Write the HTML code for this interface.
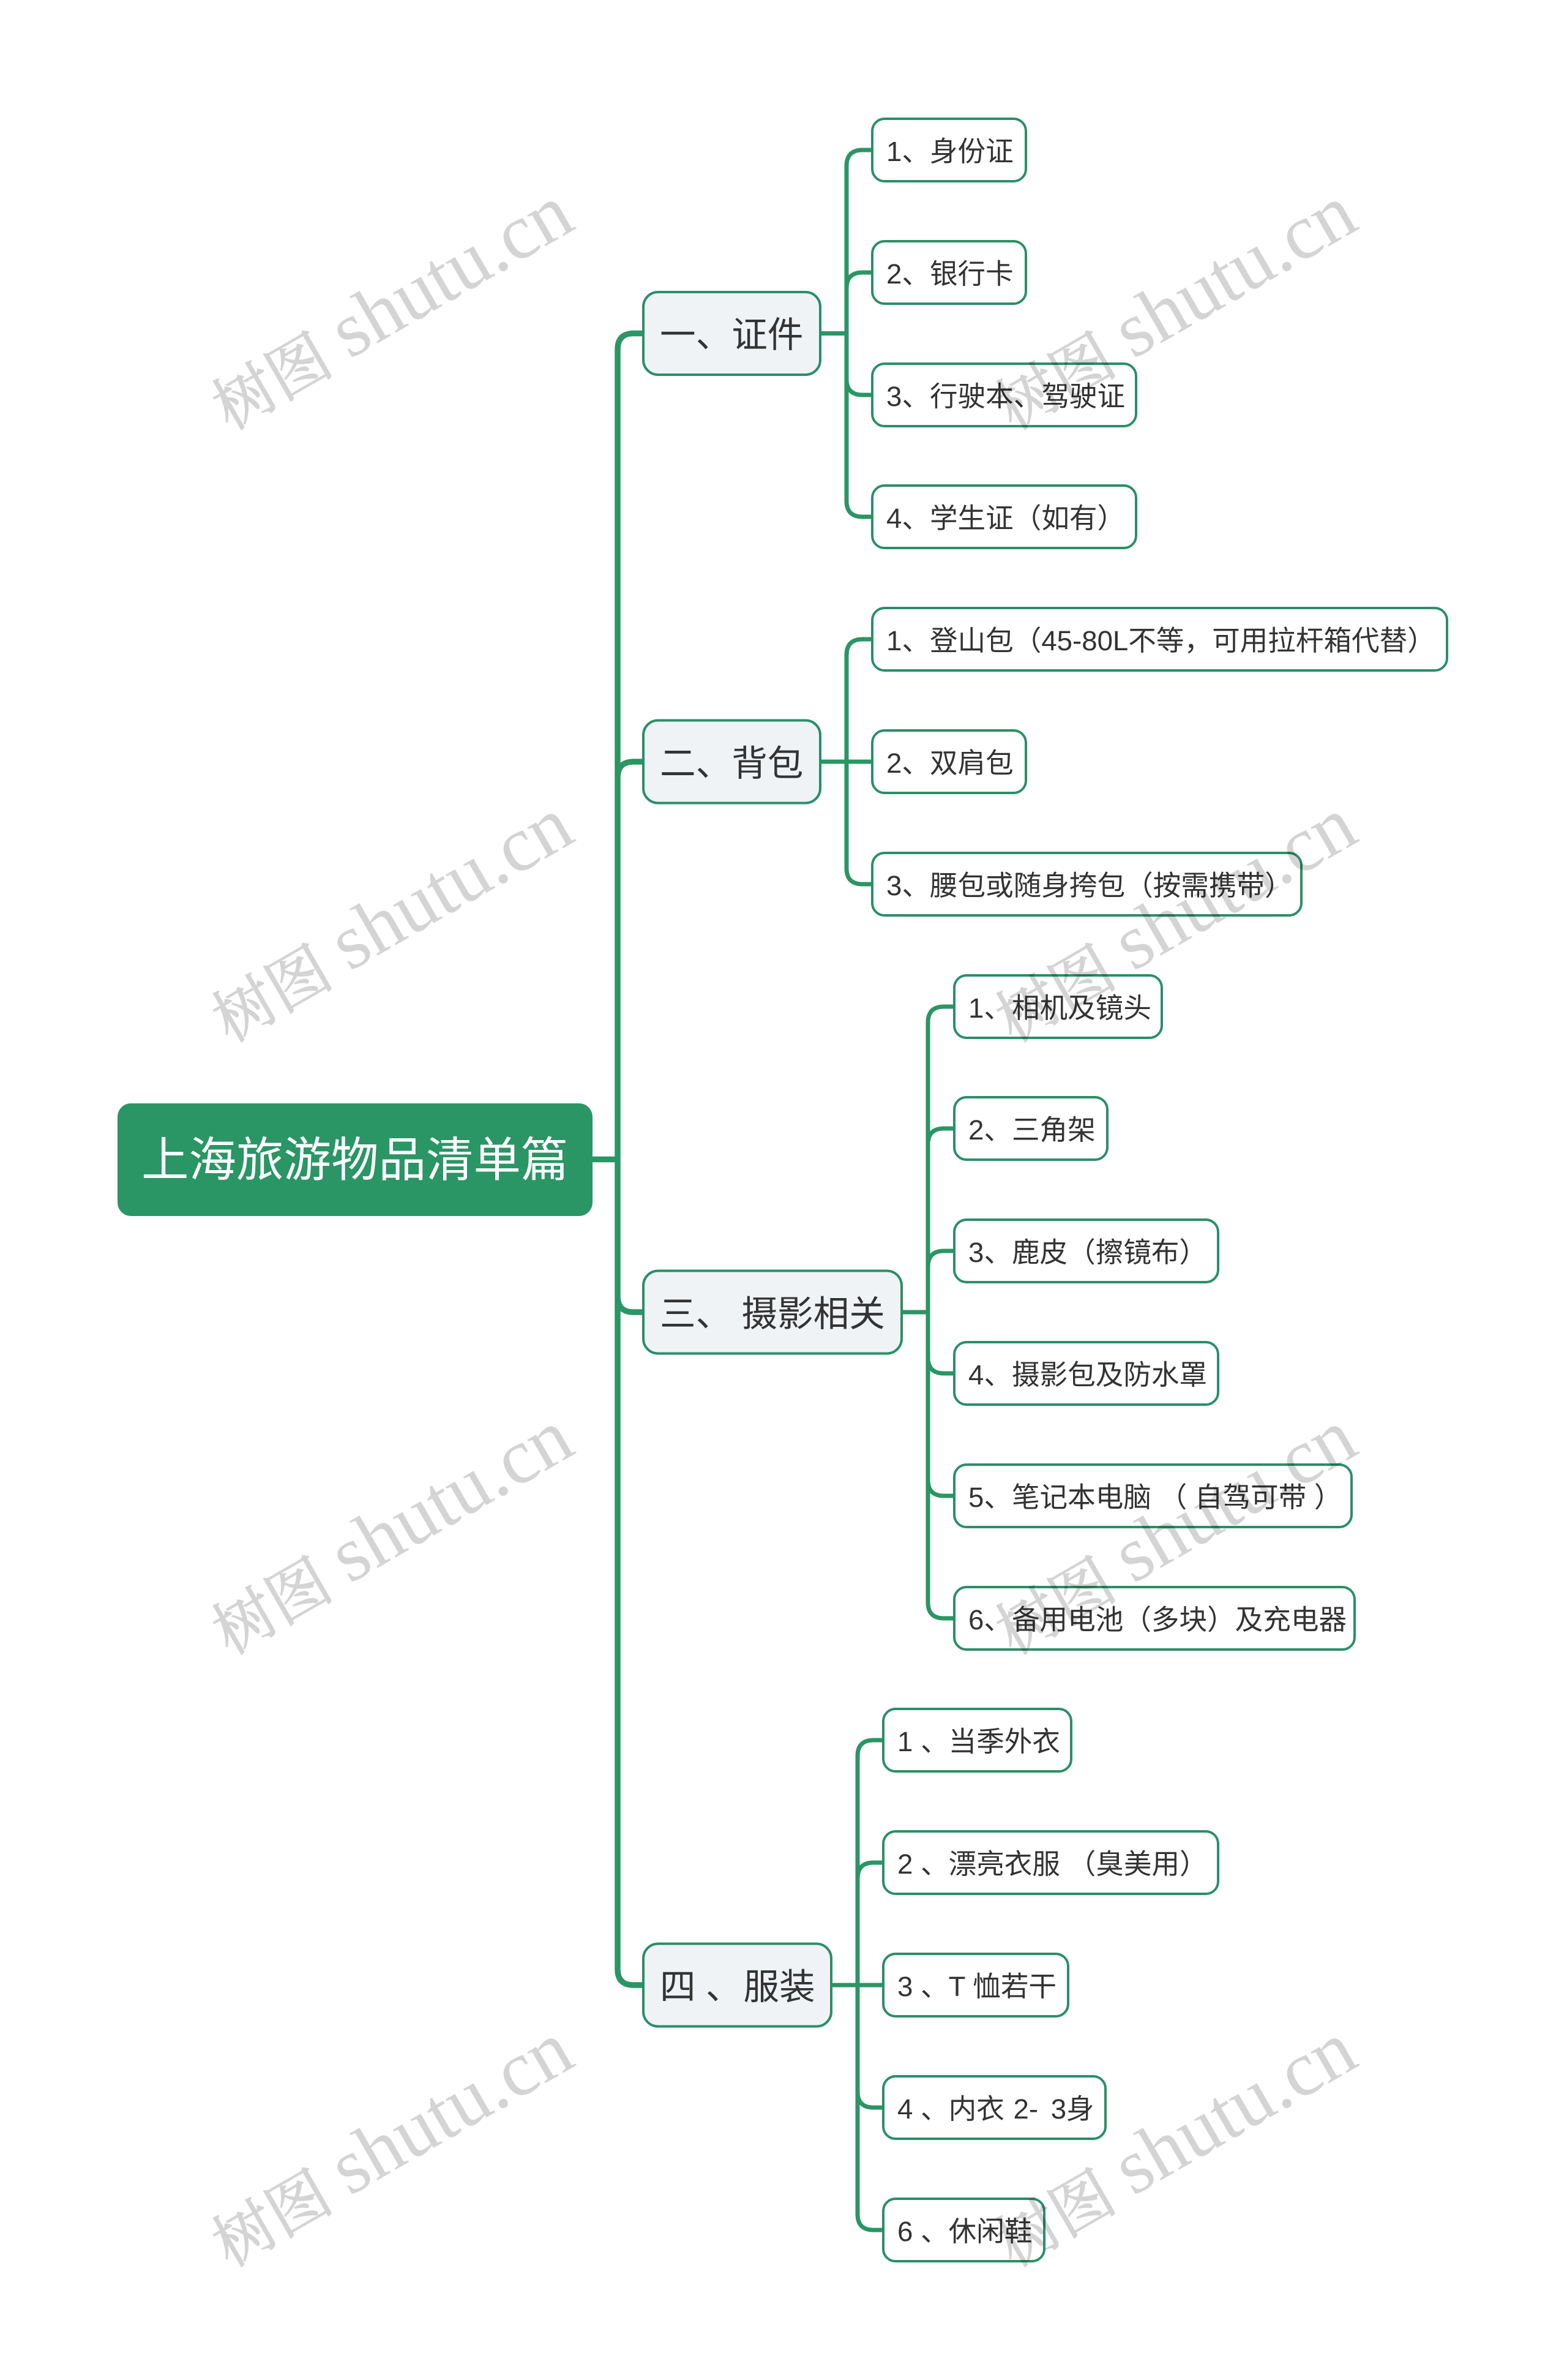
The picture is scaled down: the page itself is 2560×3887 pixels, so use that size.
<!DOCTYPE html>
<html><head><meta charset="utf-8"><style>
html,body{margin:0;padding:0;background:#fff}
svg{display:block}
text{font-family:"Liberation Sans","Noto Sans CJK SC",sans-serif;fill:#333;white-space:pre}
.l{font-size:45.6px}.m{font-size:58.6px}.r{font-size:77.5px;fill:#fff}
.w{font-family:"Liberation Serif","Noto Serif CJK SC",serif;font-size:128px;fill:#000;opacity:.165}
.h{font-family:"Noto Serif CJK SC",serif;font-size:100px;fill:#000;stroke:#000;stroke-width:1.5;opacity:.165}
.n{fill:#fff;stroke:#2a8f68;stroke-width:4}
.p{fill:#eff3f6;stroke:#2a8f68;stroke-width:4}
.c{fill:none;stroke:#2a9565;stroke-width:7}
.t{fill:none;stroke:#2a9565;stroke-width:9.5}
</style></head><body>
<svg xmlns="http://www.w3.org/2000/svg" width="2560" height="3887" viewBox="0 0 2560 3887">
<rect width="2560" height="3887" fill="#fff"/>
<path class="t" d="M968 1893.5H1009M1050 544.5H1035Q1009 544.5 1009 571V3216Q1009 3242 1035 3242H1050M1050 1244H1035Q1009 1244 1009 1270M1050 2143H1035Q1009 2143 1009 2117"/>
<path class="c" d="M1342 544.5H1383M1424 245H1409Q1383 245 1383 271V818Q1383 844 1409 844H1424M1424 445H1409Q1383 445 1383 471M1424 645H1409Q1383 645 1383 619"/>
<path class="c" d="M1342 1244H1424M1424 1044H1409Q1383 1044 1383 1070V1418Q1383 1444 1409 1444H1424"/>
<path class="c" d="M1475 2143H1516M1557 1644H1542Q1516 1644 1516 1670V2617Q1516 2643 1542 2643H1557M1557 1843H1542Q1516 1843 1516 1869M1557 2043H1542Q1516 2043 1516 2069M1557 2243H1542Q1516 2243 1516 2217M1557 2443H1542Q1516 2443 1516 2417"/>
<path class="c" d="M1360 3242H1441M1441 2842H1427Q1401 2842 1401 2868V3616Q1401 3642 1427 3642H1441M1441 3042H1427Q1401 3042 1401 3068M1441 3442H1427Q1401 3442 1401 3416"/>

<rect x="192" y="1802" width="776" height="184" rx="22" fill="#2a9565"/>
<text class="r" x="231" y="1921">上海旅游物品清单篇</text>

<rect class="p" x="1051" y="477" width="289" height="135" rx="24"/><text class="m" x="1078" y="567">一、证件</text>
<rect class="p" x="1051" y="1176.5" width="289" height="135" rx="24"/><text class="m" x="1078" y="1267">二、背包</text>
<rect class="p" x="1051" y="2075.5" width="422" height="135" rx="24"/><text class="m" x="1078" y="2166">三、 摄影相关</text>
<rect class="p" x="1051" y="3174.5" width="307" height="135" rx="24"/><text class="m" x="1078" y="3265">四 、<tspan dx="3">服装</tspan></text>

<rect class="n" x="1425" y="194" width="251" height="102" rx="20"/><text class="l" x="1448" y="263">1、身份证</text>
<rect class="n" x="1425" y="394" width="251" height="102" rx="20"/><text class="l" x="1448" y="463">2、银行卡</text>
<rect class="n" x="1425" y="594" width="431" height="102" rx="20"/><text class="l" x="1448" y="663">3、行驶本、驾驶证</text>
<rect class="n" x="1425" y="793" width="431" height="102" rx="20"/><text class="l" x="1448" y="862">4、学生证（如有）</text>

<rect class="n" x="1425" y="993" width="939" height="102" rx="20"/><text class="l" x="1448" y="1062">1、登山包（45-80L不等，可用拉杆箱代替）</text>
<rect class="n" x="1425" y="1193" width="251" height="102" rx="20"/><text class="l" x="1448" y="1262">2、双肩包</text>
<rect class="n" x="1425" y="1393" width="701" height="102" rx="20"/><text class="l" x="1448" y="1462">3、腰包或随身挎包（按需携带）</text>

<rect class="n" x="1559" y="1593" width="339" height="102" rx="20"/><text class="l" x="1582" y="1662">1、相机及镜头</text>
<rect class="n" x="1559" y="1792" width="250" height="102" rx="20"/><text class="l" x="1582" y="1861">2、三角架</text>
<rect class="n" x="1559" y="1992" width="431" height="102" rx="20"/><text class="l" x="1582" y="2061">3、鹿皮（擦镜布）</text>
<rect class="n" x="1559" y="2192" width="431" height="102" rx="20"/><text class="l" x="1582" y="2261">4、摄影包及防水罩</text>
<rect class="n" x="1559" y="2392" width="649" height="102" rx="20"/><text class="l" x="1582" y="2461">5、笔记本电脑 （ 自驾可带 ）</text>
<rect class="n" x="1559" y="2592" width="654" height="102" rx="20"/><text class="l" x="1582" y="2661">6、备用电池（多块）及充电器</text>

<rect class="n" x="1443" y="2791" width="307" height="102" rx="20"/><text class="l" x="1466" y="2860">1 、当季外衣</text>
<rect class="n" x="1443" y="2991" width="547" height="102" rx="20"/><text class="l" x="1466" y="3060">2 、漂亮衣服 （臭美用）</text>
<rect class="n" x="1443" y="3191" width="302" height="102" rx="20"/><text class="l" x="1466" y="3260">3 、T 恤若干</text>
<rect class="n" x="1443" y="3391" width="363" height="102" rx="20"/><text class="l" x="1466" y="3460">4 、内衣 <tspan dx="2">2-</tspan> <tspan dx="8">3身</tspan></text>
<rect class="n" x="1443" y="3591" width="263" height="102" rx="20"/><text class="l" x="1466" y="3660">6 、休闲鞋</text>

<g>
<text class="h" transform="translate(375 704) rotate(-30)">树图</text><text class="w" transform="translate(571 587) rotate(-30)">shutu.cn</text>
<text class="h" transform="translate(1655 704) rotate(-30)">树图</text><text class="w" transform="translate(1851 587) rotate(-30)">shutu.cn</text>
<text class="h" transform="translate(375 1704) rotate(-30)">树图</text><text class="w" transform="translate(571 1587) rotate(-30)">shutu.cn</text>
<text class="h" transform="translate(1655 1704) rotate(-30)">树图</text><text class="w" transform="translate(1851 1587) rotate(-30)">shutu.cn</text>
<text class="h" transform="translate(375 2704) rotate(-30)">树图</text><text class="w" transform="translate(571 2587) rotate(-30)">shutu.cn</text>
<text class="h" transform="translate(1655 2704) rotate(-30)">树图</text><text class="w" transform="translate(1851 2587) rotate(-30)">shutu.cn</text>
<text class="h" transform="translate(375 3704) rotate(-30)">树图</text><text class="w" transform="translate(571 3587) rotate(-30)">shutu.cn</text>
<text class="h" transform="translate(1655 3704) rotate(-30)">树图</text><text class="w" transform="translate(1851 3587) rotate(-30)">shutu.cn</text>
</g>
</svg>
</body></html>
